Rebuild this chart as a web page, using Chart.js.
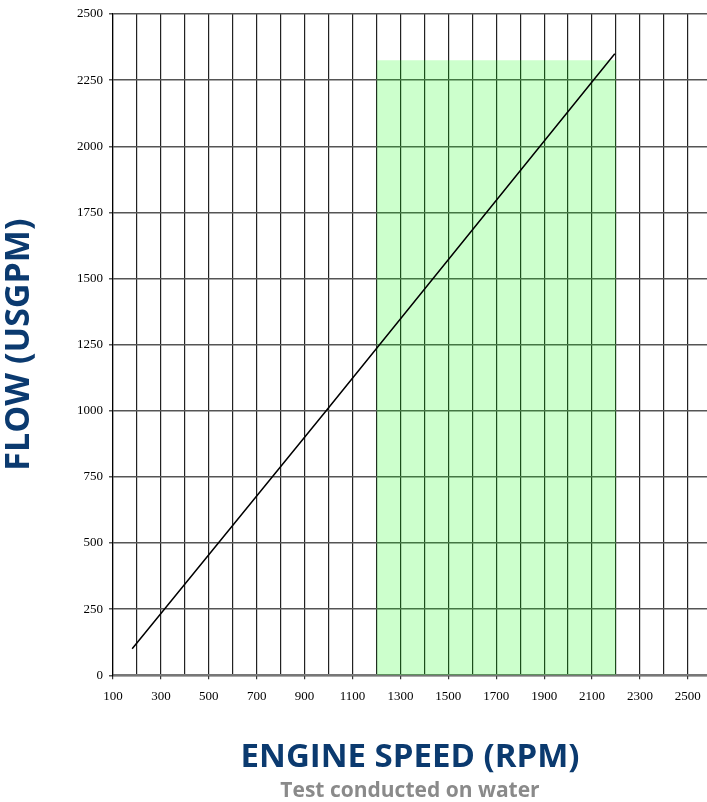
<!DOCTYPE html>
<html>
<head>
<meta charset="utf-8">
<script src="https://cdn.jsdelivr.net/npm/chart.js@4.4.1/dist/chart.umd.min.js"></script>
<style>
  html, body { margin: 0; padding: 0; background: #fff; }
  #wrap { width: 707px; height: 802px; position: relative; }
</style>
</head>
<body>
<div id="wrap"><canvas id="flow-chart"></canvas></div>
<script>
// values
const curveRpm = [180, 990, 2195];
const curveFlow = [100, 1000, 2350];

const bandRpm = [1200, 2200];
const bandFlow = [2325, 2325];

const xTickLabels = [100, 300, 500, 700, 900, 1100, 1300, 1500, 1700, 1900, 2100, 2300, 2500];
const yTickLabels = [0, 250, 500, 750, 1000, 1250, 1500, 1750, 2000, 2250, 2500];

const TITLE_BLUE = "#0b3a6f";

document.addEventListener("DOMContentLoaded", () => {
  const ctx = document.getElementById("flow-chart").getContext("2d");

  new Chart(ctx, {
    type: "line",
    data: {
      datasets: [
        {
          label: "Flow",
          data: curveRpm.map((x, i) => ({ x: x, y: curveFlow[i] })),
          borderColor: "#000",
          borderWidth: 1.5,
          pointRadius: 0,
          tension: 0,
          fill: false,
          order: 0
        },
        {
          label: "Operating range",
          data: bandRpm.map((x, i) => ({ x: x, y: bandFlow[i] })),
          borderWidth: 0,
          borderColor: "rgba(0,0,0,0)",
          backgroundColor: "rgba(0, 255, 0, 0.2)",
          pointRadius: 0,
          fill: "origin",
          order: 1
        }
      ]
    },
    options: {
      responsive: true,
      maintainAspectRatio: false,
      animation: false,
      layout: { padding: { top: 14, right: 0, left: 0, bottom: 0 } },
      plugins: {
        legend: { display: false },
        tooltip: { enabled: false },
        title: {
          display: true,
          position: "bottom",
          fullSize: false,
          text: "Test conducted on water",
          color: "#8a8a8a",
          font: { family: "'Open Sans'", size: 21, weight: "bold", lineHeight: 1.2 },
          padding: { top: 0, bottom: -1.5 }
        }
      },
      scales: {
        x: {
          type: "linear",
          min: 100,
          max: 2580,
          afterFit: scale => { scale.height = 103; },
          ticks: {
            stepSize: 100,
            includeBounds: false,
            autoSkip: false,
            maxRotation: 0,
            padding: 5,
            color: "#000",
            // tall line height pushes the labels down without eating into the right edge
            font: { family: "'Liberation Serif'", size: 13, lineHeight: 1.9 },
            callback: value => xTickLabels.includes(value) ? String(value) : ""
          },
          grid: {
            color: "#222",
            lineWidth: 1.2,
            tickLength: 4,
            tickColor: c => (c.tick && xTickLabels.includes(c.tick.value)) ? "#333" : "rgba(0,0,0,0)"
          },
          border: { color: "#777", width: 2 },
          title: {
            display: true,
            text: "ENGINE SPEED (RPM)",
            color: TITLE_BLUE,
            font: { family: "'Open Sans'", size: 33, weight: "bold", lineHeight: 1 },
            padding: { top: 0, bottom: 4.5 }
          }
        },
        y: {
          min: 0,
          max: 2500,
          afterFit: scale => { scale.width = 113; },
          ticks: {
            stepSize: 250,
            padding: 6,
            color: "#000",
            font: { family: "'Liberation Serif'", size: 13 },
            callback: value => yTickLabels.includes(value) ? String(value) : ""
          },
          grid: {
            color: "#555",
            lineWidth: 1.5,
            tickLength: 4,
            tickColor: "#555"
          },
          border: { color: "#000", width: 1.2 },
          title: {
            display: true,
            text: "FLOW (USGPM)",
            color: TITLE_BLUE,
            font: { family: "'Open Sans'", size: 34, weight: "bold", lineHeight: 1 },
            padding: { top: 2, bottom: 0 }
          }
        }
      }
    }
  });
});
</script>
</body>
</html>
